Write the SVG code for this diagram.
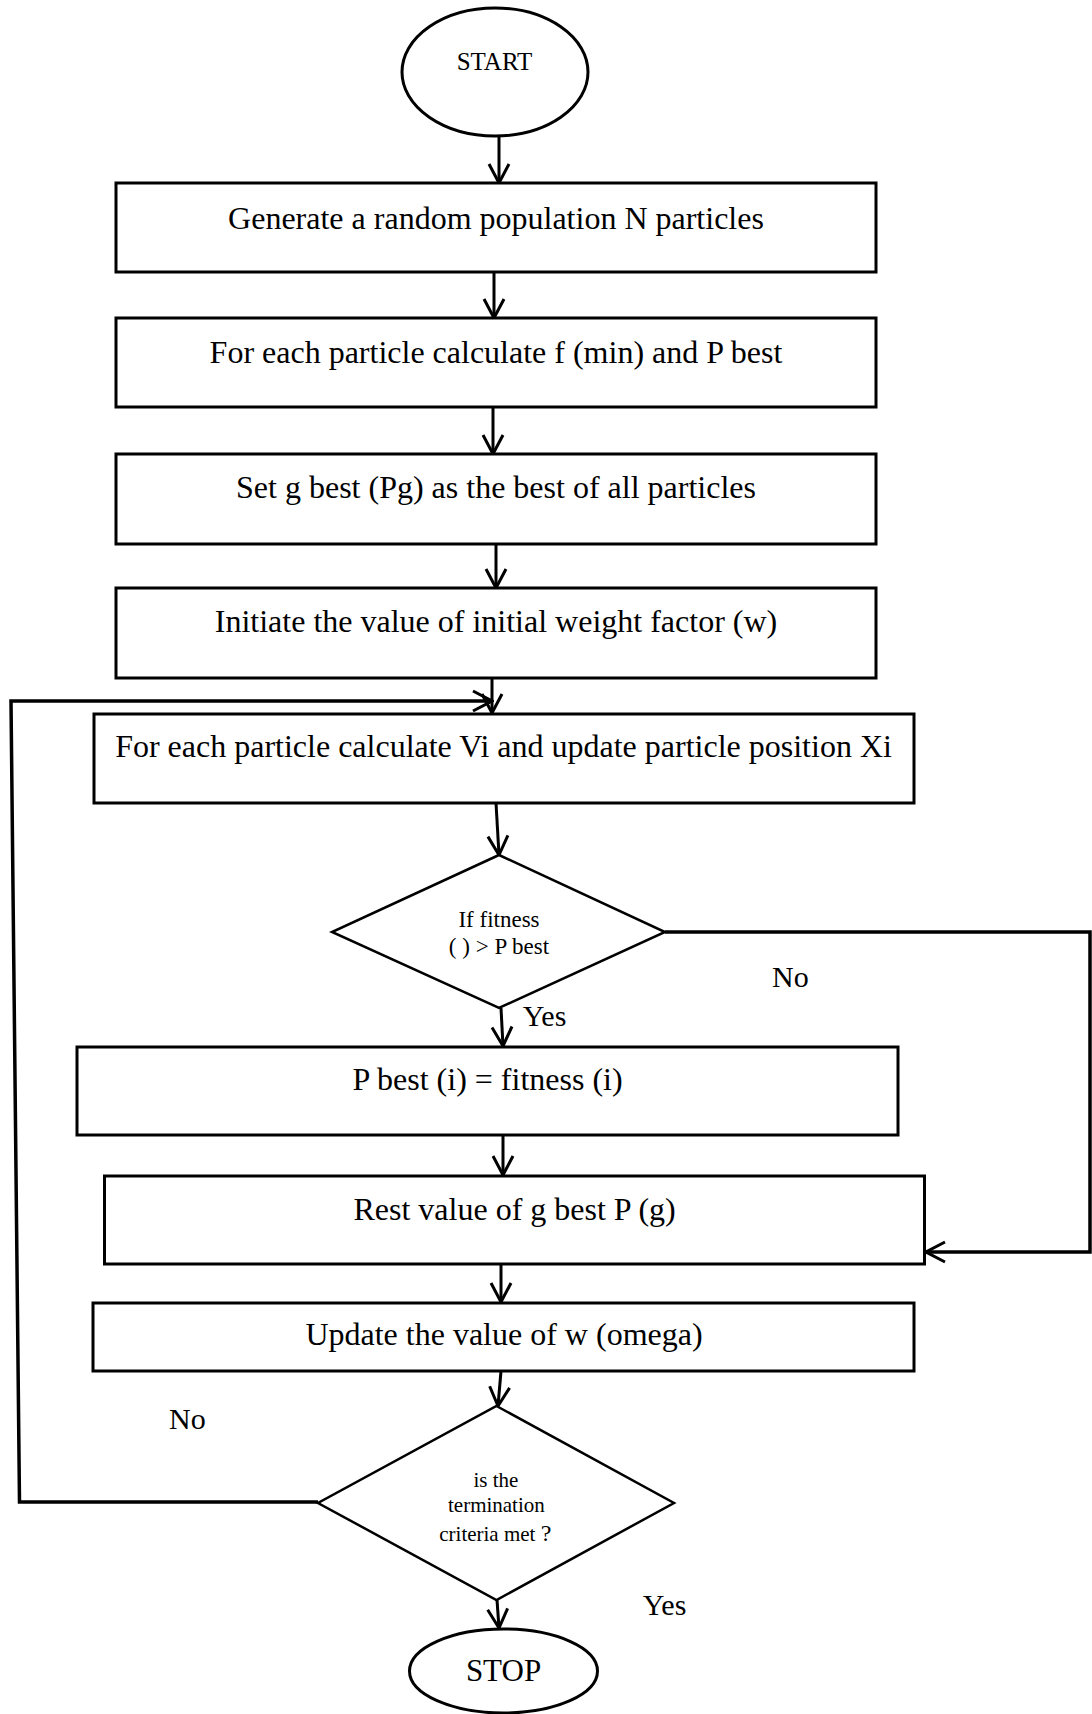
<svg xmlns="http://www.w3.org/2000/svg" width="1092" height="1714" viewBox="0 0 1092 1714">
<style>
.box{fill:#fff;stroke:#000;stroke-width:3}
.term{fill:#fff;stroke:#000;stroke-width:3}
.dec{fill:#fff;stroke:#000;stroke-width:2.5}
.t{font-family:"Liberation Serif","Times New Roman",serif;fill:#000;text-anchor:middle}
.m{font-size:32px}
.lbl{font-family:"Liberation Serif","Times New Roman",serif;fill:#000;font-size:30px}
.c{fill:none;stroke:#000;stroke-width:3}
.cw{fill:none;stroke:#000;stroke-width:3.5}
</style>
<defs>
<marker id="ah" viewBox="-22 -12 24 24" refX="0" refY="0" markerWidth="24" markerHeight="24" markerUnits="userSpaceOnUse" orient="auto">
<path d="M-19,-10 L0,0 L-19,10" fill="none" stroke="#000" stroke-width="3"/>
</marker>
</defs>
<rect width="1092" height="1714" fill="#fff"/>
<g id="connectors">
<path class="c" d="M499,136 L499,183" marker-end="url(#ah)"/>
<path class="c" d="M494,272 L494,318" marker-end="url(#ah)"/>
<path class="c" d="M493,407 L493,454" marker-end="url(#ah)"/>
<path class="c" d="M496,544 L496,588" marker-end="url(#ah)"/>
<path class="c" d="M492,678 L492,713" marker-end="url(#ah)"/>
<path class="cw" d="M318,1502 L19.5,1502 L11,701 L492,701" marker-end="url(#ah)"/>
<path class="c" d="M496,803 L499,855" marker-end="url(#ah)"/>
<path class="c" d="M501,1008 L503,1046" marker-end="url(#ah)"/>
<path class="cw" d="M665,932 L1090,932 L1090,1252 L926,1252" marker-end="url(#ah)"/>
<path class="c" d="M503,1135 L503,1175" marker-end="url(#ah)"/>
<path class="c" d="M501,1264 L501,1302" marker-end="url(#ah)"/>
<path class="c" d="M501,1371 L498,1406" marker-end="url(#ah)"/>
<path class="c" d="M497,1600 L499,1628" marker-end="url(#ah)"/>
</g>
<g id="start">
<ellipse class="term" cx="495" cy="72" rx="93" ry="64"/>
<text class="t" x="494.5" y="70" font-size="25">START</text>
</g>
<g id="gen">
<rect class="box" x="116" y="183" width="760" height="89"/>
<text class="t m" x="496" y="229">Generate a random population N particles</text>
</g>
<g id="calc">
<rect class="box" x="116" y="318" width="760" height="89"/>
<text class="t m" x="496" y="363">For each particle calculate f (min) and P best</text>
</g>
<g id="gbest">
<rect class="box" x="116" y="454" width="760" height="90"/>
<text class="t m" x="496" y="498">Set g best (Pg) as the best of all particles</text>
</g>
<g id="initw">
<rect class="box" x="116" y="588" width="760" height="90"/>
<text class="t m" x="496" y="632">Initiate the value of initial weight factor (w)</text>
</g>
<g id="velocity">
<rect class="box" x="94" y="714" width="820" height="89"/>
<text class="t m" x="503.5" y="757">For each particle calculate Vi and update particle position Xi</text>
</g>
<g id="fitness">
<polygon class="dec" points="499,855 665,932 499,1008 332,932"/>
<text class="t" x="499" y="926.7" font-size="23">If fitness</text>
<text class="t" x="499" y="954.3" font-size="23">( ) &gt; P best</text>
</g>
<g id="pbest">
<rect class="box" x="77" y="1047" width="821" height="88"/>
<text class="t m" x="487.5" y="1090">P best (i) = fitness (i)</text>
</g>
<g id="rest">
<rect class="box" x="104.5" y="1176" width="820" height="88"/>
<text class="t m" x="514.6" y="1220">Rest value of g best P (g)</text>
</g>
<g id="updatew">
<rect class="box" x="93" y="1303" width="821" height="68"/>
<text class="t m" x="504" y="1345">Update the value of w (omega)</text>
</g>
<g id="termination">
<polygon class="dec" points="496.5,1406 674,1503 496.5,1600 318,1503"/>
<text class="t" x="496" y="1487" font-size="21">is the</text>
<text class="t" x="496.4" y="1511.5" font-size="21">termination</text>
<text class="t" x="495.3" y="1541" font-size="21">criteria met <tspan font-size="24">?</tspan></text>
</g>
<g id="stop">
<ellipse class="term" cx="503.5" cy="1671" rx="94" ry="42"/>
<text class="t" x="503.5" y="1680.7" font-size="31">STOP</text>
</g>
<g id="labels">
<text class="lbl" x="772" y="986.7">No</text>
<text class="lbl" x="522.7" y="1026">Yes</text>
<text class="lbl" x="169" y="1429.3">No</text>
<text class="lbl" x="642.7" y="1615">Yes</text>
</g>
</svg>
